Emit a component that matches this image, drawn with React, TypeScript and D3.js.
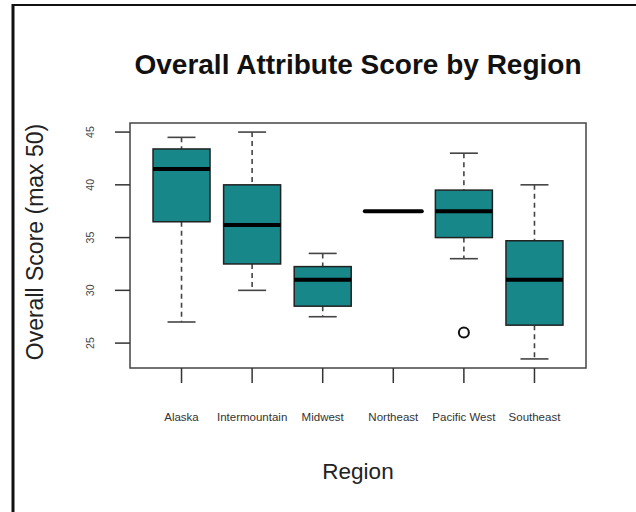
import React from "react";
import * as d3 from "d3";

// Five-number summaries per region
const regions = ["Alaska", "Intermountain", "Midwest", "Northeast", "Pacific West", "Southeast"];
const lowerWhisker = [27.0, 30.0, 27.5, 37.5, 33.0, 23.5];
const q1 = [36.5, 32.5, 28.5, 37.5, 35.0, 26.7];
const median = [41.5, 36.2, 31.0, 37.5, 37.5, 31.0];
const q3 = [43.4, 40.0, 32.25, 37.5, 39.5, 34.7];
const upperWhisker = [44.5, 45.0, 33.5, 37.5, 43.0, 40.0];
const outliers: { region: string; value: number }[] = [{ region: "Pacific West", value: 26.0 }];
const yTicks = [25, 30, 35, 40, 45];

const W = 636;
const H = 512;
const plot = { left: 130, right: 586, top: 123, bottom: 368 };
const FILL = "#17878A";
const FONT = "'Liberation Sans', Arial, Helvetica, sans-serif";

export default function App() {
  const x = d3.scalePoint<string>().domain(regions).range([plot.left, plot.right]).padding(0.73);
  const y = d3.scaleLinear().domain([22.64, 45.86]).range([plot.bottom, plot.top]);
  const boxW = 57;
  const capW = 28;

  return (
    <svg
      width={W}
      height={H}
      style={{ position: "fixed", left: 0, top: 0, background: "#fff" }}
      fontFamily={FONT}
    >
      <rect x={0} y={0} width={W} height={H} fill="#fff" />
      {/* outer frame */}
      <line x1={13} x2={W} y1={5} y2={5} stroke="#111" strokeWidth={2} />
      <line x1={13} x2={13} y1={4} y2={H} stroke="#111" strokeWidth={3} />

      <text x={358} y={74} textAnchor="middle" fontSize={28} fontWeight="bold" fill="#111">
        Overall Attribute Score by Region
      </text>

      {/* boxes */}
      {regions.map((r, i) => {
        const cx = x(r)!;
        return (
          <g key={r}>
            <line x1={cx} x2={cx} y1={y(upperWhisker[i])} y2={y(q3[i])} stroke="#444" strokeWidth={1.6} strokeDasharray="5,4" />
            <line x1={cx} x2={cx} y1={y(q1[i])} y2={y(lowerWhisker[i])} stroke="#444" strokeWidth={1.6} strokeDasharray="5,4" />
            <line x1={cx - capW / 2} x2={cx + capW / 2} y1={y(upperWhisker[i])} y2={y(upperWhisker[i])} stroke="#444" strokeWidth={1.6} />
            <line x1={cx - capW / 2} x2={cx + capW / 2} y1={y(lowerWhisker[i])} y2={y(lowerWhisker[i])} stroke="#444" strokeWidth={1.6} />
            <rect
              x={cx - boxW / 2}
              y={y(q3[i])}
              width={boxW}
              height={y(q1[i]) - y(q3[i])}
              fill={FILL}
              stroke="#222"
              strokeWidth={1.5}
            />
            <line x1={cx - boxW / 2} x2={cx + boxW / 2} y1={y(median[i])} y2={y(median[i])} stroke="#000" strokeWidth={4} strokeLinecap={q1[i] === q3[i] ? "round" : "butt"} />
          </g>
        );
      })}

      {outliers.map((o, i) => (
        <circle key={i} cx={x(o.region)!} cy={y(o.value)} r={5} fill="none" stroke="#111" strokeWidth={2} />
      ))}

      {/* plot frame */}
      <rect
        x={plot.left}
        y={plot.top}
        width={plot.right - plot.left}
        height={plot.bottom - plot.top}
        fill="none"
        stroke="#444"
        strokeWidth={1.5}
      />

      {/* y axis */}
      {yTicks.map((t) => (
        <g key={t}>
          <line x1={plot.left - 15} x2={plot.left} y1={y(t)} y2={y(t)} stroke="#333" strokeWidth={1.5} />
          <text
            x={94}
            y={y(t)}
            transform={`rotate(-90, 94, ${y(t)})`}
            textAnchor="middle"
            fontSize={10.5}
            fill="#444"
          >
            {t}
          </text>
        </g>
      ))}

      {/* x axis */}
      {regions.map((r) => (
        <g key={r}>
          <line x1={x(r)!} x2={x(r)!} y1={plot.bottom} y2={plot.bottom + 15} stroke="#333" strokeWidth={1.5} />
          <text x={x(r)!} y={421} textAnchor="middle" fontSize={11.5} fill="#333">
            {r}
          </text>
        </g>
      ))}

      <text x={358} y={479} textAnchor="middle" fontSize={22.5} fill="#222">
        Region
      </text>
      <text
        x={43}
        y={242}
        transform="rotate(-90, 43, 242)"
        textAnchor="middle"
        fontSize={23}
        fill="#222"
      >
        Overall Score (max 50)
      </text>
    </svg>
  );
}
